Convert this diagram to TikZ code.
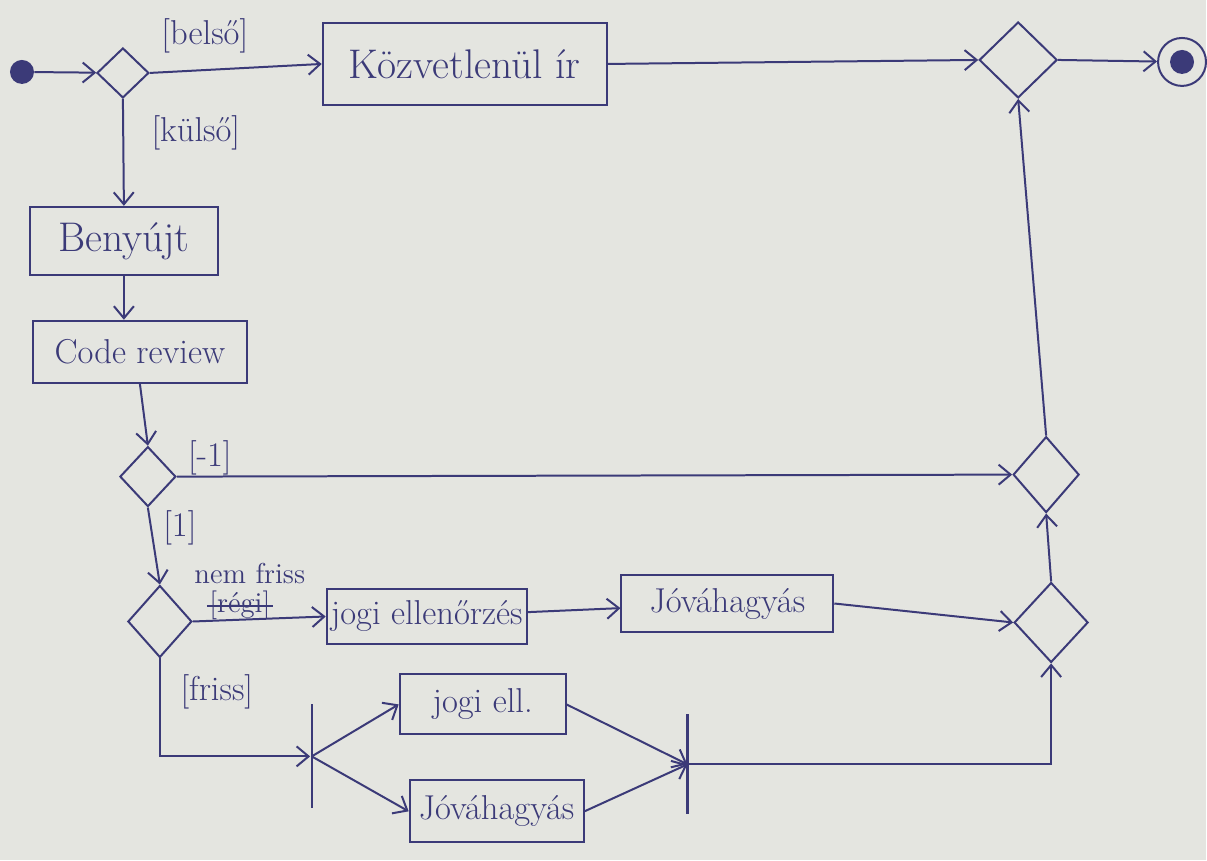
\documentclass[tikz,border=0pt]{standalone}
\usepackage{tikz}
\usetikzlibrary{arrows.meta,shapes.geometric}
\definecolor{ink}{HTML}{3B3A78}
\definecolor{paper}{HTML}{E4E5E0}

\begin{document}
\begin{tikzpicture}[x=0.5pt,y=-0.5pt,>={Straight Barb[length=6pt,width=10pt]},
 act/.style={draw=ink,text=ink,line width=1pt,font=\LARGE,inner sep=3pt},
 dec/.style={diamond,draw=ink,line width=1pt,inner sep=0pt},
 bar/.style={fill=ink,inner sep=0pt,minimum width=1.2pt},
 final/.style={circle,draw=ink,line width=1pt,minimum size=24pt,inner sep=0pt,
  path picture={\fill[ink] (path picture bounding box.center) circle (6pt);}},
 lbl/.style={text=ink,font=\LARGE},
 flow/.style={->,draw=ink,line width=1pt}]
\fill[paper] (0,0) rectangle (1207,861);
% main line
\node[fill=ink,circle,inner sep=0pt,minimum size=12pt] (start) at (22,72) {};
\node[dec,minimum width=26pt,minimum height=25pt] (d1) at (123,73) {};
\node[act,font=\huge,minimum width=142pt,minimum height=41pt] (direct) at (465,64) {Közvetlenül ír};
\node[dec,minimum width=39pt,minimum height=38pt] (m1) at (1019,60) {};
\node[final] (stop) at (1183,62) {};
\node[act,font=\huge,minimum width=94pt,minimum height=34pt] (submit) at (124,241) {Benyújt};
\node[act,minimum width=107pt,minimum height=31pt] (review) at (140,352) {Code review};
\node[dec,minimum width=28pt,minimum height=30pt] (d2) at (148,477) {};
\node[dec,minimum width=32pt,minimum height=36pt] (d3) at (160,622) {};
\node[act,inner sep=2pt,minimum width=100pt,minimum height=28pt] (legal) at (427,617) {jogi ellenőrzés};
\node[act,minimum width=106pt,minimum height=29pt] (approve) at (728,604) {Jóváhagyás};
\node[dec,minimum width=33pt,minimum height=38pt] (m2) at (1047,475) {};
\node[dec,minimum width=37pt,minimum height=40pt] (m3) at (1052,623) {};
% parallel branch
\node[bar,minimum height=52pt] (fork) at (312,757) {};
\node[act,minimum width=83pt,minimum height=30pt] (legalB) at (483,705) {jogi ell.};
\node[act,minimum width=87pt,minimum height=31pt] (approveB) at (497,812) {Jóváhagyás};
\node[bar,minimum height=50pt] (join) at (688,765) {};
% guards
\node[lbl] (inner) at (205,36) {[belső]};
\node[lbl] (outer) at (196,133) {[külső]};
\node[lbl] (neg) at (210,458) {[-1]};
\node[lbl] (pos) at (180,528) {[1]};
\node[lbl,font=\Large,inner sep=1pt] (notfresh) at (250,574) {nem friss};
\node[lbl,font=\Large,inner sep=1pt] (old) at (240,606) {[régi]};
\draw[ink,line width=1pt] (old.west) -- (old.east);
\node[lbl] (fresh) at (217,692) {[friss]};

\draw[flow] (start) -- (d1);
\draw[flow] (d1.east) -- (direct.west);
\draw[flow] (direct.east) -- (m1.west);
\draw[flow] (m1.east) -- (stop);
\draw[flow] (d1.south) -- (submit.north);
\draw[flow] (submit.south) -- (submit.south |- review.north);
\draw[flow] (review.south) -- (d2.north);
\draw[flow] (d2.east) -- (m2.west);
\draw[flow] (d2.south) -- (d3.north);
\draw[flow] (d3.east) -- (legal.west);
\draw[flow] (legal) -- (approve);
\draw[flow] (approve.east) -- (m3.west);
\draw[flow] (m3.north) -- (m2.south);
\draw[flow] (m2.north) -- (m1.south);
\draw[flow] (d3.south) |- (fork);
\draw[flow] (fork.center) -- (legalB.west);
\draw[flow] (fork.center) -- (approveB.west);
\draw[flow] (legalB.east) -- (join.center);
\draw[flow] (approveB.east) -- (join.center);
\draw[flow] (join.center) -| (m3.south);
\end{tikzpicture}
\end{document}
